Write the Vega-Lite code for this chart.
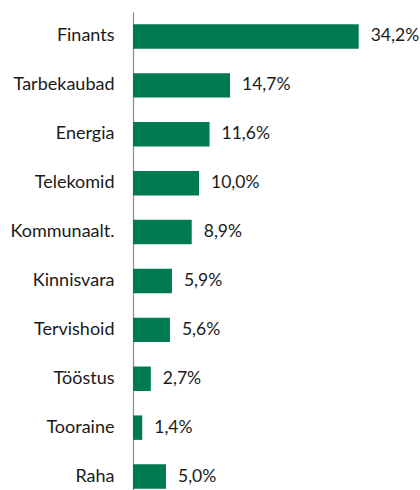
{
  "$schema": "https://vega.github.io/schema/vega-lite/v6.json",
  "width": 264,
  "height": 489,
  "autosize": {"type": "none"},
  "padding": {"left": 133, "top": 12, "right": 23, "bottom": 0},
  "background": "white",
  "config": {
    "view": {"stroke": null},
    "font": "Lato",
    "locale": {"number": {"decimal": ",", "thousands": " ", "grouping": [3], "currency": ["", " €"]}}
  },
  "data": {
    "values": [
      {"sector": "Finants", "share": 0.342},
      {"sector": "Tarbekaubad", "share": 0.147},
      {"sector": "Energia", "share": 0.116},
      {"sector": "Telekomid", "share": 0.100},
      {"sector": "Kommunaalt.", "share": 0.089},
      {"sector": "Kinnisvara", "share": 0.059},
      {"sector": "Tervishoid", "share": 0.056},
      {"sector": "Tööstus", "share": 0.027},
      {"sector": "Tooraine", "share": 0.014},
      {"sector": "Raha", "share": 0.050}
    ]
  },
  "encoding": {
    "y": {
      "field": "sector",
      "type": "nominal",
      "sort": null,
      "scale": {"paddingInner": 0.5, "paddingOuter": 0.25},
      "axis": {
        "title": null,
        "ticks": false,
        "labelPadding": 19,
        "labelFontSize": 18,
        "labelColor": "#1a1a1a",
        "labelFont": "Lato",
        "domainColor": "#8c8c8c",
        "domainWidth": 1.2
      }
    },
    "x": {
      "field": "share",
      "type": "quantitative",
      "scale": {"domain": [0, 0.4]},
      "axis": null
    }
  },
  "layer": [
    {"mark": {"type": "bar", "color": "#007a53"}},
    {
      "mark": {"type": "text", "align": "left", "dx": 12, "fontSize": 17.5, "color": "#1a1a1a", "font": "Lato", "baseline": "middle"},
      "encoding": {"text": {"field": "share", "type": "quantitative", "format": ".1%"}}
    }
  ]
}
